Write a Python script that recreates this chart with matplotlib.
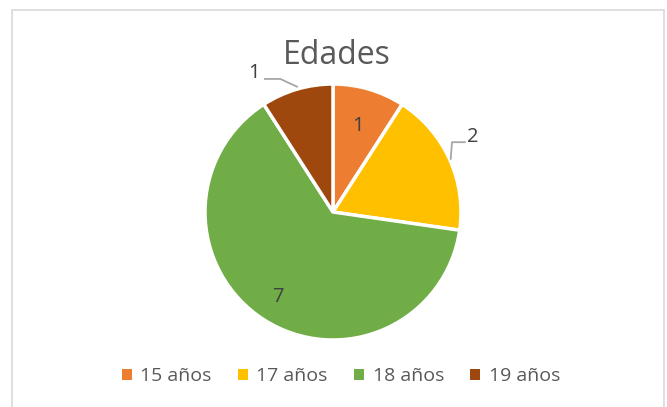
import matplotlib
matplotlib.use("Agg")
import matplotlib.pyplot as plt
from matplotlib.patches import Rectangle
import numpy as np

categories = ["15 años", "17 años", "18 años", "19 años"]
values = [1, 2, 7, 1]
colors = ["#ED7D31", "#FFC000", "#70AD47", "#9E480E"]
title = "Edades"

plt.rcParams['font.family'] = ['Open Sans', 'DejaVu Sans']

W, H = 667, 407
fig = plt.figure(figsize=(W / 100, H / 100), dpi=100)

# border (bottom edge lies outside the image)
fig.patches.append(Rectangle((12 / W, 1 - 412 / H), (664 - 12) / W, (412 - 10) / H,
                             transform=fig.transFigure, fill=False,
                             edgecolor="#D9D9D9", linewidth=1.2))

cx, cy, r = 333, 212, 128
ax = fig.add_axes([(cx - r) / W, (H - cy - r) / H, 2 * r / W, 2 * r / H])
wedges, _ = ax.pie(values, colors=colors, startangle=90, counterclock=False,
                   wedgeprops=dict(edgecolor="white", linewidth=2.5))
ax.set_xlim(-1, 1)
ax.set_ylim(-1, 1)
ax.set_aspect("equal")
ax.axis("off")

lab_color = "#404040"
fs = 14.5
for i, (w, v) in enumerate(zip(wedges, values)):
    mid = np.deg2rad((w.theta1 + w.theta2) / 2)
    if i == 0:
        ax.text(0.7 * np.cos(mid), 0.7 * np.sin(mid), str(v), ha="center", va="center",
                fontsize=fs, color=lab_color)
    elif i == 2:
        ax.text(0.79 * np.cos(mid), 0.79 * np.sin(mid), str(v), ha="center", va="center",
                fontsize=fs, color=lab_color)
    elif i == 1:
        ex, ey = np.cos(mid), np.sin(mid)
        ax.plot([ex + 0.01, ex + 0.02, ex + 0.12], [ey, ey + 0.13, ey + 0.13],
                color="#A6A6A6", lw=1.3, clip_on=False)
        ax.text(ex + 0.14, ey + 0.17, str(v), ha="left", va="center",
                fontsize=fs, color=lab_color)
    else:
        ex, ey = np.cos(mid), np.sin(mid)
        ax.plot([ex, ex - 0.13, ex - 0.25], [ey + 0.02, ey + 0.08, ey + 0.08],
                color="#A6A6A6", lw=1.3, clip_on=False)
        ax.text(ex - 0.29, ey + 0.13, str(v), ha="right", va="center",
                fontsize=fs, color=lab_color)

fig.text(337 / W, 1 - 56 / H, title, ha="center", va="center", fontsize=23, color="#595959")

handles = [Rectangle((0, 0), 1, 1, facecolor=c, edgecolor="none") for c in colors]
leg = fig.legend(handles, categories, loc="center", bbox_to_anchor=(341 / W, 1 - 376 / H),
                 ncol=4, frameon=False, fontsize=14, handlelength=0.5, handleheight=0.5,
                 handletextpad=0.45, columnspacing=1.35, labelcolor="#595959")

fig.savefig("out.png", dpi=100)
